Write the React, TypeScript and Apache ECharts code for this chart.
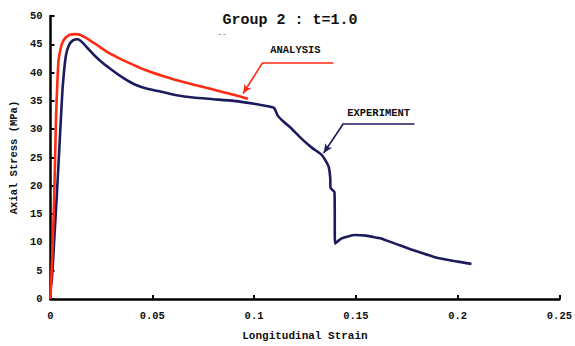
import React, { useEffect, useRef } from "react";
import * as echarts from "echarts";

const TITLE = "Group 2 : t=1.0";
const X_NAME = "Longitudinal Strain";
const Y_NAME = "Axial Stress (MPa)";

// ANALYSIS (red) curve: [strain, stress MPa]
const analysisData: [number, number][] = [
  [0, 0], [0.0009, 8], [0.0018, 17.7], [0.0027, 31.8], [0.0034, 38.5], [0.004, 42.3],
  [0.005, 44.3], [0.006, 45.4], [0.0075, 46.2], [0.0095, 46.7], [0.0123, 46.8],
  [0.015, 46.6], [0.019, 45.8], [0.024, 44.6], [0.030, 43.2], [0.038, 41.8],
  [0.0462, 40.5], [0.056, 39.3], [0.0607, 38.8], [0.070, 37.9], [0.080, 37.0],
  [0.090, 36.1], [0.097, 35.4],
];

// EXPERIMENT (navy) curve: [strain, stress MPa]
const experimentData: [number, number][] = [
  [0.0004, 2.5], [0.001, 5.1], [0.002, 11.5], [0.003, 17.7], [0.0041, 25], [0.0051, 31.8],
  [0.006, 37.5], [0.0075, 42.9], [0.009, 44.8], [0.011, 45.7], [0.0135, 45.9],
  [0.016, 45.2], [0.019, 44.0], [0.022, 42.9], [0.026, 41.6], [0.030, 40.5],
  [0.0355, 39.1], [0.0414, 37.9], [0.048, 37.1], [0.056, 36.5], [0.062, 36.0],
  [0.070, 35.6], [0.080, 35.3], [0.090, 35.0], [0.100, 34.5], [0.1075, 34.0],
  [0.110, 33.7], [0.1116, 32.4], [0.114, 31.5], [0.1187, 30.0], [0.1237, 28.2],
  [0.1285, 26.7], [0.1334, 25.4], [0.1366, 23.4], [0.1374, 21.5], [0.1376, 19.6],
  [0.1395, 18.9], [0.1398, 9.8], [0.143, 10.7], [0.1465, 11.1], [0.1495, 11.3],
  [0.155, 11.2], [0.1608, 10.8], [0.1624, 10.7], [0.170, 9.7], [0.1784, 8.6],
  [0.1898, 7.3], [0.200, 6.6], [0.2068, 6.2],
];

// Annotations (data coordinates)
const analysisLabel = { text: "ANALYSIS", at: [0.1203, 44.0] as [number, number] };
const analysisLeader: [number, number][] = [[0.139, 41.8], [0.1043, 41.8], [0.0946, 36.3]];
const experimentLabel = { text: "EXPERIMENT", at: [0.1612, 32.8] as [number, number] };
const experimentLeader: [number, number][] = [[0.1788, 31.05], [0.144, 31.05], [0.1342, 25.8]];

const RED = "#ff2a14";
const NAVY = "#1c1b5c";
const FONT = "Liberation Mono";

function leaderLines(pts: [number, number][], color: string) {
  return {
    silent: true,
    animation: false,
    lineStyle: { color, width: 1.6, type: "solid" },
    label: { show: false },
    data: [
      [
        { coord: pts[0], symbol: "none" },
        { coord: pts[1], symbol: "none" },
      ],
      [
        { coord: pts[1], symbol: "none" },
        { coord: pts[2], symbol: "arrow", symbolSize: [6, 9] },
      ],
    ],
  };
}

export default function App() {
  const ref = useRef<HTMLDivElement>(null);
  useEffect(() => {
    if (!ref.current) return;
    const chart = echarts.init(ref.current, undefined, { renderer: "svg" });
    const axisText = { fontFamily: FONT, fontWeight: "bold", color: "#111", fontSize: 10.5 };
    chart.setOption({
      animation: false,
      backgroundColor: "#fff",
      title: {
        text: TITLE,
        left: 285,
        top: 8,
        textAlign: "center",
        textStyle: { fontFamily: FONT, fontWeight: "bold", fontSize: 15, color: "#111" },
      },
      grid: { left: 45, top: 16, right: 14, bottom: 45, containLabel: false },
      xAxis: {
        type: "value",
        min: 0,
        max: 0.25,
        interval: 0.05,
        name: X_NAME,
        nameLocation: "middle",
        nameGap: 31,
        nameTextStyle: { ...axisText, fontSize: 11 },
        axisLine: { show: true, lineStyle: { color: "#000", width: 2.5 } },
        axisTick: { show: true, inside: true, length: 4, lineStyle: { color: "#000", width: 2 } },
        axisLabel: { ...axisText, margin: 11 },
        splitLine: { show: false },
      },
      yAxis: {
        type: "value",
        min: 0,
        max: 50,
        interval: 5,
        name: Y_NAME,
        nameLocation: "middle",
        nameGap: 27,
        nameTextStyle: { ...axisText, fontSize: 10.5 },
        axisLine: { show: true, lineStyle: { color: "#000", width: 2.5 } },
        axisTick: { show: true, inside: true, length: 4, lineStyle: { color: "#000", width: 2 } },
        axisLabel: { ...axisText, margin: 8 },
        splitLine: { show: false },
      },
      series: [
        {
          name: "ANALYSIS",
          type: "line",
          data: analysisData,
          smooth: 0.3,
          showSymbol: false,
          symbol: "none",
          lineStyle: { color: RED, width: 2.6 },
          z: 3,
          markLine: leaderLines(analysisLeader, RED),
        },
        {
          name: "EXPERIMENT",
          type: "line",
          data: experimentData,
          smooth: 0.2,
          showSymbol: false,
          symbol: "none",
          lineStyle: { color: NAVY, width: 2.6 },
          z: 2,
          markLine: leaderLines(experimentLeader, NAVY),
        },
      ],
    });
    const p1 = chart.convertToPixel({ gridIndex: 0 }, analysisLabel.at) as number[];
    const p2 = chart.convertToPixel({ gridIndex: 0 }, experimentLabel.at) as number[];
    chart.setOption({
      graphic: [
        {
          type: "text",
          x: p1[0],
          y: p1[1],
          style: {
            text: analysisLabel.text,
            fontFamily: FONT,
            fontWeight: "bold",
            fontSize: 10.5,
            fill: "#111",
            align: "center",
            verticalAlign: "middle",
          },
        },
        {
          type: "text",
          x: p2[0],
          y: p2[1],
          style: {
            text: experimentLabel.text,
            fontFamily: FONT,
            fontWeight: "bold",
            fontSize: 10.5,
            fill: "#111",
            align: "center",
            verticalAlign: "middle",
          },
        },
        {
          type: "text",
          x: 222,
          y: 33,
          style: { text: "--", fontFamily: FONT, fontSize: 8, fill: "#555", align: "center", verticalAlign: "middle" },
        },
      ],
    });
    return () => chart.dispose();
  }, []);
  return (
    <div
      ref={ref}
      style={{ position: "absolute", left: 0, top: 0, width: 575, height: 346 }}
    />
  );
}
